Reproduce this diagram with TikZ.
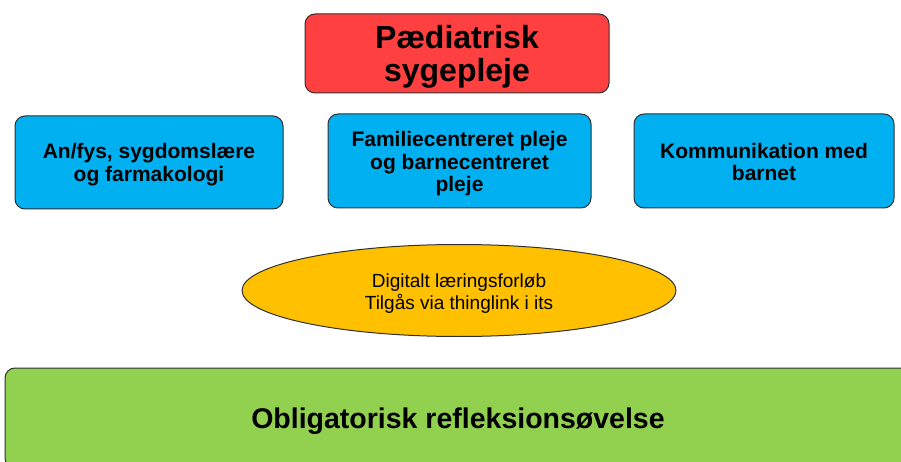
\documentclass[tikz,border=0pt]{standalone}
\usepackage{fontspec}
\setmainfont{Liberation Sans}
\usetikzlibrary{shapes.geometric}
\definecolor{cred}{HTML}{FF4040}
\definecolor{cblue}{HTML}{00B0F0}
\definecolor{cyellow}{HTML}{FFC000}
\definecolor{cline}{HTML}{303030}
\definecolor{cgreen}{HTML}{92D050}
\newcommand{\dnshift}[2]{\raisebox{-#1}[\height][\depth]{\begin{tabular}{@{}c@{}}#2\end{tabular}}}
\tikzset{
  rbox/.style={draw=cline, line width=1pt, rounded corners=10pt, inner sep=0pt},
  bluebox/.style={rbox, fill=cblue, font=\fontsize{21}{22.5}\selectfont\bfseries},
  topbox/.style={rbox, fill=cred, font=\fontsize{32}{32}\selectfont\bfseries, minimum width=304pt, minimum height=79pt},
  ovalbox/.style={ellipse, draw=cline, line width=1pt, fill=cyellow, inner sep=0pt, font=\fontsize{19}{20.5}\selectfont},
  bottombox/.style={rbox, fill=cgreen, font=\fontsize{28.5}{30}\selectfont\bfseries}
}
\begin{document}
\begin{tikzpicture}[x=1pt,y=-1pt]
\useasboundingbox (0,0) rectangle (901,462);
\clip (0,0) rectangle (901,462);
\node[topbox] (top) at (457,53.5) {\dnshift{5pt}{Pædiatrisk\\sygepleje}};
\node[bluebox, minimum width=268pt, minimum height=93pt] (left) at (149,162.5) {\dnshift{3pt}{An/fys, sygdomslære\\og farmakologi}};
\node[bluebox, minimum width=263pt, minimum height=94pt] (mid) at (459.5,161) {\dnshift{4pt}{Familiecentreret pleje\\og barnecentreret\\pleje}};
\node[bluebox, minimum width=260pt, minimum height=94pt] (right) at (764,161) {\dnshift{4pt}{Kommunikation med\\barnet}};
\node[ovalbox, minimum width=434pt, minimum height=92pt] (oval) at (459,290.5) {\dnshift{4pt}{Digitalt læringsforløb\\Tilgås via thinglink i its}};
\node[bottombox, minimum width=906pt, minimum height=100pt] (bottom) at (458,418) {\dnshift{4pt}{Obligatorisk refleksionsøvelse}};
\end{tikzpicture}
\end{document}
